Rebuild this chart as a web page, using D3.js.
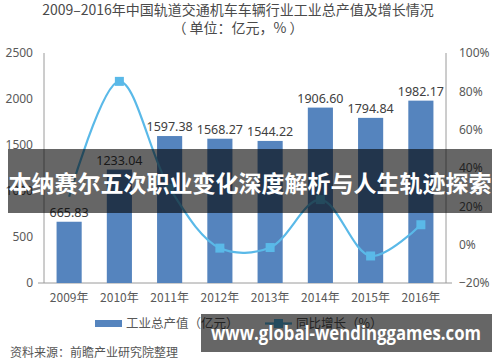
<!DOCTYPE html>
<html>
<head>
<meta charset="utf-8">
<script src="https://cdn.jsdelivr.net/npm/d3@7/dist/d3.min.js"></script>
<style>
  body { margin: 0; background: #fff; }
  .vis { width: 500px; height: 362px; }
  text { font-family: "Noto Sans CJK SC", "Noto Sans", sans-serif; }
</style>
</head>
<body>
<div class="vis"></div>
<script>
(function() {
  'use strict';

  var years = ['2009年', '2010年', '2011年', '2012年', '2013年', '2014年', '2015年', '2016年'];
  var output = [665.83, 1233.04, 1597.38, 1568.27, 1544.22, 1906.60, 1794.84, 1982.17];
  var growth = [25, 85.2, 29.5, -1.8, -1.5, 23.5, -5.9, 10.4];
  var leftTicks = [0, 500, 1000, 1500, 2000, 2500];
  var rightTicks = [-20, 0, 20, 40, 60, 80, 100];

  var margin = {top: 53, right: 54, bottom: 79, left: 44},
    width = 500 - margin.left - margin.right,
    height = 362 - margin.top - margin.bottom;

  var svg = d3.select('.vis').append('svg')
      .attr('width', 500)
      .attr('height', 362);

  var g = svg.append('g')
      .attr('transform', 'translate(' + margin.left + ',' + margin.top + ')');

  var x = d3.scaleBand().domain(years).range([0, width]).paddingInner(0.5).paddingOuter(0.25);
  var yL = d3.scaleLinear().domain([0, 2500]).range([height, 0]);
  var yR = d3.scaleLinear().domain([-20, 100]).range([height, 0]);

  var axisColor = '#9a9a9a', textColor = '#595959';

  // title
  svg.append('text')
      .attr('x', 238).attr('y', 15)
      .attr('text-anchor', 'middle')
      .attr('font-size', 14).attr('fill', '#4a4a4a')
      .text('2009–2016年中国轨道交通机车车辆行业工业总产值及增长情况');
  svg.append('text')
      .attr('x', 238).attr('y', 33)
      .attr('text-anchor', 'middle')
      .attr('font-size', 14).attr('fill', '#4a4a4a')
      .text('（ 单位：亿元，% ）');

  // axes
  var left = g.append('g')
      .call(d3.axisLeft(yL).tickValues(leftTicks).tickSize(0).tickPadding(11).tickFormat(d3.format('d')));
  var right = g.append('g')
      .attr('transform', 'translate(' + width + ',0)')
      .call(d3.axisRight(yR).tickValues(rightTicks).tickSize(0).tickPadding(13)
        .tickFormat(function(d) { return (d < 0 ? '−' + (-d) : d) + '%'; }));
  var bottom = g.append('g')
      .attr('transform', 'translate(0,' + height + ')')
      .call(d3.axisBottom(x).tickSize(0).tickPadding(10));

  [left, right, bottom].forEach(function(a) {
    a.select('.domain').attr('stroke', axisColor);
    a.selectAll('text').attr('font-size', 12).attr('fill', textColor)
      .style('font-family', '"Noto Sans", "Noto Sans CJK SC", sans-serif');
  });
  bottom.select('.domain').attr('d', 'M-6,0H' + (width + 6));
  left.select('.domain').attr('d', 'M0,' + height + 'V0');
  right.select('.domain').attr('d', 'M0,' + height + 'V0');
  bottom.selectAll('text').style('font-family', '"Noto Sans CJK SC", sans-serif');

  // bars
  g.selectAll('.bar')
    .data(output)
    .enter()
    .append('rect')
      .attr('class', 'bar')
      .attr('x', function(d, i) { return x(years[i]); })
      .attr('width', x.bandwidth())
      .attr('y', function(d) { return yL(d); })
      .attr('height', function(d) { return height - yL(d); })
      .attr('fill', '#5584be');

  g.selectAll('.val')
    .data(output)
    .enter()
    .append('text')
      .attr('class', 'val')
      .attr('x', function(d, i) { return x(years[i]) + x.bandwidth() / 2; })
      .attr('y', function(d) { return yL(d) - 5; })
      .attr('text-anchor', 'middle')
      .attr('font-size', 12.5).attr('fill', '#404040')
      .style('font-family', '"Noto Sans", sans-serif')
      .text(function(d) { return d.toFixed(2); });

  // growth line
  var line = d3.line()
      .x(function(d, i) { return x(years[i]) + x.bandwidth() / 2; })
      .y(function(d) { return yR(d); })
      .curve(d3.curveCatmullRom.alpha(0.5));

  var lineColor = '#5ab9e8';
  g.append('path')
      .datum(growth)
      .attr('d', line)
      .attr('fill', 'none')
      .attr('stroke', lineColor)
      .attr('stroke-width', 2.2);

  g.selectAll('.pt')
    .data(growth.slice(1))
    .enter()
    .append('rect')
      .attr('class', 'pt')
      .attr('x', function(d, i) { return x(years[i + 1]) + x.bandwidth() / 2 - 4.5; })
      .attr('y', function(d) { return yR(d) - 4.5; })
      .attr('width', 9).attr('height', 9)
      .attr('fill', lineColor);

  // legend
  var lg = svg.append('g');
  lg.append('rect').attr('x', 95).attr('y', 320).attr('width', 27).attr('height', 7).attr('fill', '#5584be');
  lg.append('text').attr('x', 126).attr('y', 328).attr('font-size', 12.5).attr('fill', textColor)
    .text('工业总产值（亿元）');
  lg.append('line').attr('x1', 265).attr('x2', 292).attr('y1', 323.5).attr('y2', 323.5)
    .attr('stroke', lineColor).attr('stroke-width', 2.2);
  lg.append('rect').attr('x', 274).attr('y', 319).attr('width', 9).attr('height', 9).attr('fill', lineColor);
  lg.append('text').attr('x', 296).attr('y', 328).attr('font-size', 12.5).attr('fill', textColor)
    .text('同比增长（%）');

  svg.append('text').attr('x', 10).attr('y', 357).attr('font-size', 12).attr('fill', '#555')
    .text('资料来源：前瞻产业研究院整理');

  // overlays
  svg.append('rect').attr('x', 8).attr('y', 149).attr('width', 484).attr('height', 64)
    .attr('fill', 'rgba(0,0,0,0.6)');
  svg.append('text').attr('x', 250).attr('y', 192).attr('text-anchor', 'middle')
    .attr('font-size', 23).attr('font-weight', 'bold').attr('fill', '#fff')
    .text('本纳赛尔五次职业变化深度解析与人生轨迹探索');

  svg.append('rect').attr('x', 201).attr('y', 314).attr('width', 291).attr('height', 38)
    .attr('fill', 'rgba(0,0,0,0.6)');
  svg.append('text').attr('x', 211).attr('y', 340)
    .attr('font-size', 19).attr('font-weight', 'bold').attr('fill', '#fff')
    .attr('textLength', 270).attr('lengthAdjust', 'spacingAndGlyphs')
    .style('font-family', '"Open Sans", "Noto Sans", sans-serif')
    .text('www.global-wendinggames.com');
}());
</script>
</body>
</html>
